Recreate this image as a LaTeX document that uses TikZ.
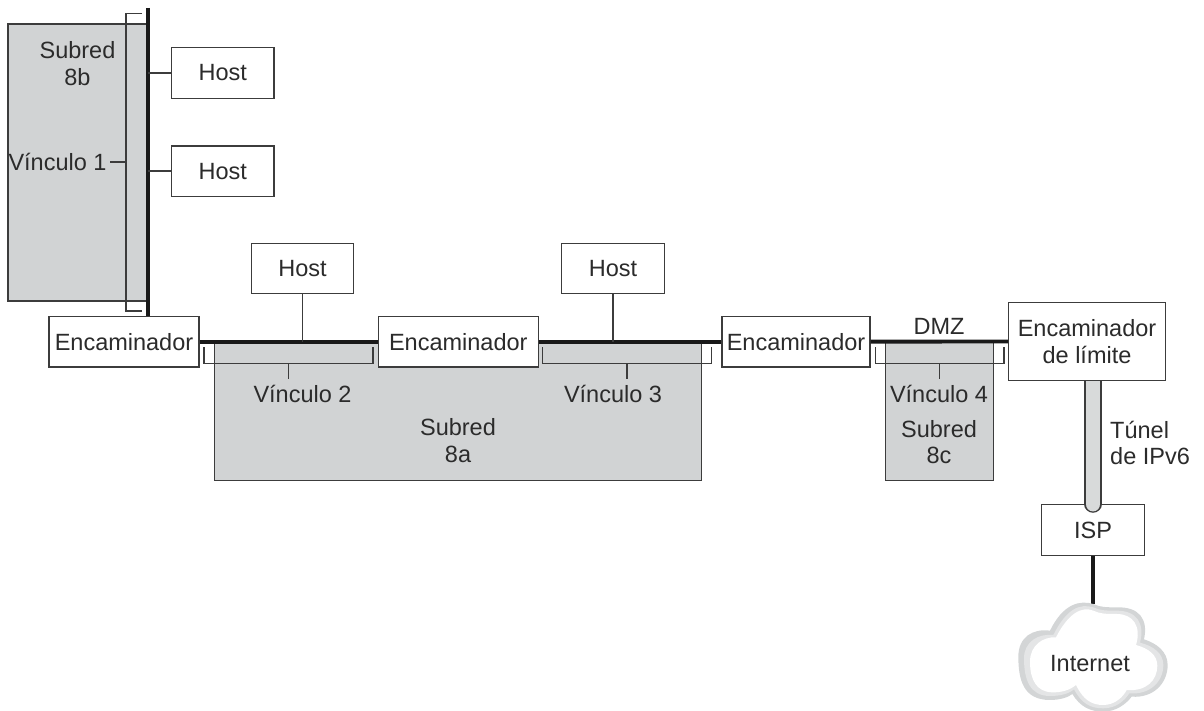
\documentclass[tikz,border=0pt]{standalone}
\usepackage{fontspec}
\setmainfont{Liberation Sans}
\usepackage{xcolor}
\usetikzlibrary{positioning}
\definecolor{ink}{HTML}{2B2B2B}
\definecolor{edge}{HTML}{3C3C3C}
\definecolor{subnetgray}{HTML}{D1D3D4}
\definecolor{cloudgray}{HTML}{D3D5D6}
\definecolor{cloudlight}{HTML}{E4E5E6}
\tikzset{
  box/.style={draw=edge,line width=1.4pt,fill=white,inner sep=0pt,text=ink},
  hostbox/.style={box,minimum width=102.5pt,minimum height=50.5pt},
  routerbox/.style={box,minimum width=150pt,minimum height=50.5pt},
  subnet/.style={draw=edge,line width=1.4pt,fill=subnetgray,inner sep=0pt},
  label/.style={inner sep=0pt,text=ink,align=center},
  bus/.style={draw=black!90,line width=3.8pt},
  thin link/.style={draw=edge,line width=1.4pt}
}
\begin{document}
\begin{tikzpicture}[x=1pt,y=-1pt,on grid,font=\fontsize{23.5}{26.5}\selectfont]
  \useasboundingbox (0,0) rectangle (1204,711);
  % gray subnets
  \node[subnet,minimum width=140pt,minimum height=277pt] (sub8b) at (78,162.5) {};
  \node[subnet,minimum width=486.6pt,minimum height=139.5pt] (sub8a) at (458,411) {};
  \node[subnet,minimum width=107.5pt,minimum height=139.5pt] (sub8c) at (939.5,411) {};
  % routers and hosts
  \node[routerbox] (enc1) at (124,341.7) {Encaminador};
  \node[routerbox,minimum width=160pt] (enc2) [right=334.3pt of enc1] {Encaminador};
  \node[routerbox,minimum width=148pt] (enc3) [right=337.7pt of enc2] {Encaminador};
  \node[hostbox] (host1) at (222.7,73) {Host};
  \node[hostbox] (host2) [below=98.2pt of host1] {Host};
  \node[hostbox] (host3) at (302.5,268.5) {Host};
  \node[hostbox] (host4) [right=310.5pt of host3] {Host};
  \node[hostbox] (isp) at (1093,530) {ISP};
  % tunnel goes under the border router
  \path[draw=edge,line width=17.4pt,line cap=round,
    postaction={draw=subnetgray!85!white,line width=14.8pt,line cap=round}]
    (isp.north) -- (isp.north |- 0,380);
  \node[box,minimum width=156.6pt,minimum height=77.6pt,align=center] (border) at (1087,341.5) {Encaminador\\de límite};
  % thick links
  \coordinate (busTop) at (148,8);
  \draw[bus] (busTop) -- (busTop |- enc1.north);
  \draw[bus] (enc1) -- (enc2);
  \draw[bus] (enc2) -- (enc3);
  \draw[bus] (enc3) -- (border);
  \coordinate (cloudTop) at (1093,604);
  \draw[bus] (isp) -- (cloudTop);
  % host links
  \draw[thin link] (host1) -- (host1 -| busTop);
  \draw[thin link] (host2) -- (host2 -| busTop);
  \draw[thin link] (host3) -- (host3 |- enc1);
  \draw[thin link] (host4) -- (host4 |- enc1);
  % brackets
  \draw[thin link] (142,13.3) -| (126,311) -- (142,311);
  \draw[thin link] (126,162) -- (110,162);
  \draw[thin link] (204,347) |- (373,363.3) -- (373,347);
  \draw[thin link] (288.7,363.3) -- (288.7,379);
  \draw[thin link] (542.3,347) |- (711.7,363.3) -- (711.7,347);
  \draw[thin link] (627,363.3) -- (627,379);
  \draw[thin link] (875.7,347) |- (1004,363.3) -- (1004,347);
  \draw[thin link] (939.3,363.3) -- (939.3,379);
  % cloud
  \begin{scope}[shift={(1000,520)},x=0.3333pt,y=-0.3333pt]
    \fill[cloudgray] (280,252) .. controls (240,240) and (190,250) .. (150,332)
      .. controls (100,325) and (55,350) .. (55,410)
      .. controls (55,480) and (70,540) .. (150,540)
      .. controls (180,540) and (205,532) .. (217,522)
      .. controls (240,560) and (270,575) .. (310,575)
      .. controls (350,575) and (380,550) .. (395,530)
      .. controls (460,535) and (503,490) .. (503,435)
      .. controls (503,395) and (470,370) .. (432,358)
      .. controls (445,300) and (420,260) .. (350,262)
      .. controls (320,262) and (300,262) .. (280,252) -- cycle;
    \fill[cloudlight] (280,262) .. controls (240,250) and (200,265) .. (160,345)
      .. controls (115,340) and (72,365) .. (72,415)
      .. controls (72,480) and (90,528) .. (150,528)
      .. controls (180,528) and (205,522) .. (222,508)
      .. controls (245,550) and (270,565) .. (310,565)
      .. controls (350,565) and (375,540) .. (388,520)
      .. controls (450,525) and (490,485) .. (490,435)
      .. controls (490,400) and (460,378) .. (420,368)
      .. controls (435,310) and (410,272) .. (350,272)
      .. controls (320,272) and (300,272) .. (280,262) -- cycle;
    \fill[white] (280,272) .. controls (245,258) and (205,280) .. (168,352)
      .. controls (130,350) and (90,375) .. (90,425)
      .. controls (90,480) and (110,515) .. (155,517)
      .. controls (185,518) and (210,510) .. (228,495)
      .. controls (250,540) and (275,555) .. (310,555)
      .. controls (345,555) and (370,530) .. (380,510)
      .. controls (440,515) and (472,480) .. (472,437)
      .. controls (472,405) and (445,385) .. (408,375)
      .. controls (425,320) and (400,282) .. (350,282)
      .. controls (320,282) and (300,282) .. (280,272) -- cycle;
  \end{scope}
  % labels
  \node[label] (lblInternet) at (1090,663.5) {Internet};
  \node[label] (lblSub8b) at (77.5,63.5) {Subred\\8b};
  \node[label] (lblLink1) at (57.5,162) {Vínculo 1};
  \node[label] (lblLink2) at (302.5,394) {Vínculo 2};
  \node[label] (lblLink3) at (613,394) {Vínculo 3};
  \node[label] (lblSub8a) at (458,440.5) {Subred\\8a};
  \node[label] (lblDMZ) at (939,326) {DMZ};
  \node[label] (lblLink4) at (939,394) {Vínculo 4};
  \node[label] (lblSub8c) at (939,442) {Subred\\8c};
  \node[label,align=left,anchor=west] (lblTunnel) at (1110,443) {Túnel\\de IPv6};
\end{tikzpicture}
\end{document}
